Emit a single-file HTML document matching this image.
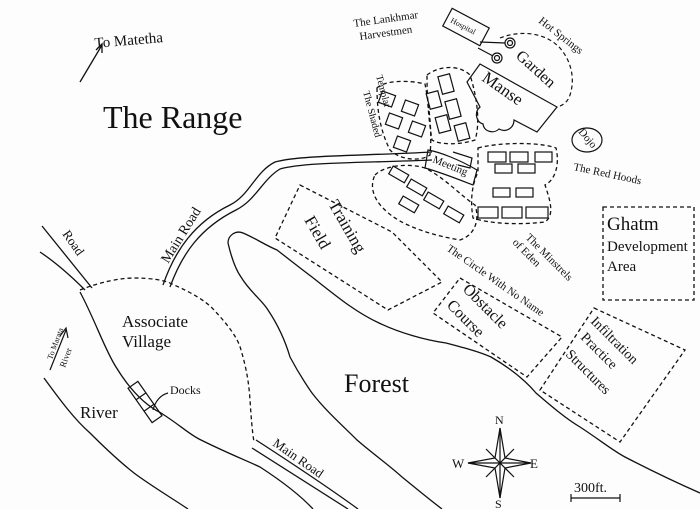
<!DOCTYPE html>
<html><head><style>
html,body{margin:0;padding:0;background:#fff}
svg{display:block}
text{font-family:"Liberation Serif",serif;fill:#111;font-weight:400}
</style></head><body>
<svg width="700" height="509" viewBox="0 0 700 509" xmlns="http://www.w3.org/2000/svg">
<rect width="700" height="509" fill="#fdfdfd"/>
<g fill="none" stroke="#111" stroke-width="1.3">
<path d="M80 82 L102 45"/><path d="M96 50 L102 44 L102 53"/>
<path d="M163 285 C175 250 195 222 230 205 C250 195 255 172 275 162 C300 155 360 156 432 152"/>
<path d="M170 287 C182 254 200 228 236 210 C256 200 262 180 280 169 C305 162 362 163 432 160"/>
<path d="M42 226 L92 288"/><path d="M40 252 C55 262 70 275 85 290"/>
<path d="M80 292 C95 320 105 350 116 367 C130 390 145 405 161 413 C180 425 190 435 201 440 C225 452 245 460 260 467 C280 480 300 495 313 509"/>
<path d="M44 378 C60 400 75 420 90 433 C105 448 120 462 134 473 C150 485 170 497 188 509"/>
<path d="M80 290 C100 282 120 278 134 278 C150 278 165 280 172 284 C190 292 205 300 214 310 C228 325 238 338 241 350 C247 370 249 385 250 400 C251 415 252 430 254 442" stroke-dasharray="4 3"/>
<path d="M228 243 C228 235 236 230 243 233 C255 238 265 245 277 250 C290 260 300 268 312 277 C335 295 355 312 379 323 C400 333 425 340 446 343 C465 348 480 352 491 357 C510 368 525 380 536 393 C550 405 565 418 580 427 C600 440 612 450 625 457 C650 470 675 482 700 493"/>
<path d="M228 243 C232 260 236 270 241 277 C250 292 262 300 268 310 C278 325 285 340 290 357 C298 372 305 383 312 393 C325 410 342 425 357 440 C372 453 390 466 402 477 C418 490 430 500 442 509"/>
<path d="M256 440 C290 462 325 485 358 509"/><path d="M252 448 C285 469 318 490 348 509"/>
<path d="M300 185 L392 232 L442 282 L388 310 L275 238 Z" stroke-dasharray="4 3"/>
<path d="M460 278 L562 337 L527 377 L433 313 Z" stroke-dasharray="4 3"/>
<path d="M594 308 L685 350 L620 442 L540 390 Z" stroke-dasharray="4 3"/>
<rect x="603" y="207" width="91" height="93" stroke-dasharray="4 3"/>
<path d="M377 88 C385 80 410 80 425 84 C430 110 432 135 430 155 C420 162 400 160 390 150 C380 130 377 110 377 88 Z" stroke-dasharray="4 3"/>
<path d="M427 75 C440 65 460 65 470 75 C478 100 480 125 475 140 C460 145 440 145 432 140 C428 115 427 95 427 75 Z" stroke-dasharray="4 3"/>
<path d="M478 148 C500 142 540 142 556 148 C560 165 555 180 545 185 C550 200 555 215 545 222 C520 225 490 224 473 218 C470 200 472 185 478 172 Z" stroke-dasharray="4 3"/>
<path d="M375 175 C385 165 410 163 425 168 C445 178 460 195 475 205 C480 220 475 235 460 240 C430 235 400 225 385 210 C372 198 370 185 375 175 Z" stroke-dasharray="4 3"/>
<g stroke-width="1.2">
<rect x="380" y="93" width="14" height="12" transform="rotate(20 387 99)"/><rect x="403" y="102" width="14" height="12" transform="rotate(20 410 108)"/><rect x="387" y="115" width="14" height="12" transform="rotate(20 394 121)"/><rect x="410" y="123" width="14" height="12" transform="rotate(20 417 129)"/><rect x="395" y="138" width="14" height="12" transform="rotate(20 402 144)"/>
<rect x="440" y="75" width="12" height="18" transform="rotate(-15 446 84)"/><rect x="428" y="92" width="12" height="16" transform="rotate(-15 434 100)"/><rect x="447" y="100" width="12" height="18" transform="rotate(-15 453 109)"/><rect x="437" y="116" width="12" height="16" transform="rotate(-15 443 124)"/><rect x="456" y="124" width="12" height="16" transform="rotate(-15 462 132)"/>
<rect x="488" y="152" width="18" height="10"/><rect x="510" y="152" width="18" height="10"/><rect x="535" y="152" width="17" height="10"/>
<rect x="495" y="164" width="17" height="9"/><rect x="518" y="164" width="17" height="9"/>
<rect x="493" y="188" width="17" height="9"/><rect x="516" y="188" width="17" height="9"/>
<rect x="478" y="207" width="20" height="11"/><rect x="502" y="207" width="20" height="11"/><rect x="526" y="207" width="22" height="11"/>
<rect x="390" y="170" width="18" height="9" transform="rotate(30 399 174)"/><rect x="408" y="183" width="18" height="9" transform="rotate(30 417 187)"/><rect x="425" y="196" width="18" height="9" transform="rotate(30 434 200)"/><rect x="445" y="210" width="18" height="9" transform="rotate(30 454 214)"/><rect x="400" y="200" width="18" height="9" transform="rotate(30 409 204)"/>
<g transform="rotate(55 145 402)"><rect x="124" y="396" width="42" height="12"/><path d="M138 396v12M152 396v12"/></g>
<path d="M168 393 C160 395 155 402 153 410"/>
<path d="M500 38 C520 30 545 32 560 48 C572 62 575 80 570 95 C568 102 562 106 557 107" stroke-dasharray="4 3"/>
<path d="M480 64 L557 107 L537 132 L514 120 C514 128 506 133 499 129 C494 134 484 132 483 124 C476 122 474 112 480 107 L467 82 Z"/>
<rect x="445" y="17" width="42" height="20" transform="rotate(28 466 27)"/>
<circle cx="510" cy="43" r="5"/><circle cx="510" cy="43" r="2.5"/><circle cx="497" cy="58" r="5"/><circle cx="497" cy="58" r="2.5"/>
<path d="M480 42 L505 43 M478 48 L493 56"/>
<path d="M428 150 C440 152 460 160 477 170 L473 185 C460 180 440 172 425 168 Z"/>
<path d="M453 152 L472 158 L470 168 L458 165"/>
<ellipse cx="587" cy="140" rx="15" ry="12"/>
<path d="M500 428 L505 458 L531 463 L505 468 L500 498 L495 468 L468 463 L495 458 Z"/>
<path d="M468 463 H531 M500 428 V498 M486 449 L514 477 M514 449 L486 477"/>
<path d="M571 498 H620 M571 494 V502 M620 494 V502"/>
</g>
</g>
<path d="M50 370 L66 330 M60 336 L66 328 L68 338" fill="none" stroke="#111" stroke-width="1.2"/>
<text x="95" y="48" font-size="15" transform="rotate(-5 95 48)">To Matetha</text>
<text x="103" y="128" font-size="32">The Range</text>
<text x="168" y="264" font-size="14" transform="rotate(-58 168 264)">Main Road</text>
<text x="62" y="234" font-size="13" transform="rotate(55 62 234)">Road</text>
<text x="122" y="327" font-size="17">Associate</text>
<text x="122" y="347" font-size="17">Village</text>
<text x="170" y="394" font-size="12">Docks</text>
<text x="80" y="418" font-size="17">River</text>
<text x="52" y="360" font-size="8" transform="rotate(-70 52 360)">To Marata</text>
<text x="65" y="368" font-size="9" transform="rotate(-70 65 368)">River</text>
<text x="344" y="392" font-size="26">Forest</text>
<text x="272" y="445" font-size="13" transform="rotate(35 272 445)">Main Road</text>
<text x="328" y="204" font-size="17" transform="rotate(60 328 204)">Training</text>
<text x="304" y="220" font-size="17" transform="rotate(60 304 220)">Field</text>
<text x="462" y="290" font-size="16" transform="rotate(45 462 290)">Obstacle</text>
<text x="446" y="306" font-size="16" transform="rotate(45 446 306)">Course</text>
<text x="590" y="322" font-size="14" transform="rotate(45 590 322)">Infiltration</text>
<text x="580" y="338" font-size="14" transform="rotate(45 580 338)">Practice</text>
<text x="565" y="355" font-size="14" transform="rotate(45 565 355)">Structures</text>
<text x="607" y="230" font-size="19">Ghatm</text>
<text x="607" y="251" font-size="15">Development</text>
<text x="607" y="271" font-size="15">Area</text>
<text x="446" y="250" font-size="11" transform="rotate(35 446 250)">The Circle With No Name</text>
<text x="525" y="238" font-size="11" transform="rotate(45 525 238)">The Minstrels</text>
<text x="512" y="243" font-size="11" transform="rotate(45 512 243)">of Eden</text>
<text x="573" y="170" font-size="11" transform="rotate(12 573 170)">The Red Hoods</text>
<text x="578" y="132" font-size="11" transform="rotate(50 578 132)">Dojo</text>
<text x="432" y="162" font-size="11" transform="rotate(22 432 162)">Meeting</text>
<text x="481" y="80" font-size="17" transform="rotate(35 481 80)">Manse</text>
<text x="515" y="57" font-size="16" transform="rotate(42 515 57)">Garden</text>
<text x="538" y="22" font-size="11" transform="rotate(38 538 22)">Hot Springs</text>
<text x="450" y="22" font-size="8" transform="rotate(28 450 22)">Hospital</text>
<text x="354" y="27" font-size="11" transform="rotate(-8 354 27)">The Lankhmar</text>
<text x="360" y="40" font-size="11" transform="rotate(-8 360 40)">Harvestmen</text>
<text x="363" y="92" font-size="10" transform="rotate(75 363 92)">The Shaded</text>
<text x="376" y="76" font-size="10" transform="rotate(75 376 76)">Templar</text>
<text x="495" y="424" font-size="12">N</text>
<text x="452" y="468" font-size="13">W</text>
<text x="530" y="468" font-size="13">E</text>
<text x="495" y="508" font-size="12">S</text>
<text x="574" y="492" font-size="14">300ft.</text>
</svg>
</body></html>
